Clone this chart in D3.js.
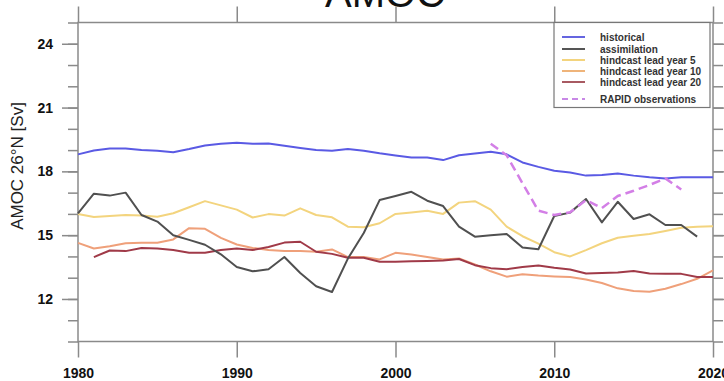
<!DOCTYPE html>
<html>
<head>
<meta charset="utf-8">
<script src="https://cdn.jsdelivr.net/npm/d3@7"></script>
<style>
  html, body { margin: 0; padding: 0; background: #fff; }
  svg { display: block; font-family: "Liberation Sans", Arial, Helvetica, sans-serif; }
</style>
</head>
<body>
<svg id="chart" width="724" height="381"></svg>
<script>
// ---------------- data ----------------
const years = d3.range(1980, 2021);
const historical = [18.8, 18.98, 19.08, 19.08, 19.0, 18.97, 18.9, 19.05, 19.22, 19.3,
  19.35, 19.3, 19.31, 19.2, 19.1, 19.0, 18.97, 19.05, 18.97, 18.85,
  18.75, 18.65, 18.65, 18.53, 18.76, 18.84, 18.92, 18.8, 18.42, 18.21,
  18.03, 17.95, 17.8, 17.83, 17.9, 17.8, 17.72, 17.67, 17.72, 17.72, 17.72];
const assimilationYears = d3.range(1980, 2020);
const assimilation = [16.03, 16.95, 16.86, 17.0, 15.95, 15.64, 15.0, 14.78, 14.55, 14.1,
  13.5, 13.3, 13.4, 13.97, 13.22, 12.6, 12.33, 13.9, 15.1, 16.65,
  16.84, 17.04, 16.62, 16.37, 15.4, 14.93, 15.0, 15.06, 14.42, 14.34,
  15.9, 16.06, 16.7, 15.6, 16.57, 15.76, 15.98, 15.48, 15.48, 14.93];
const lead5 = [16.0, 15.85, 15.9, 15.95, 15.92, 15.87, 16.03, 16.31, 16.6, 16.4,
  16.2, 15.83, 15.99, 15.92, 16.26, 15.95, 15.84, 15.4, 15.37, 15.56,
  16.0, 16.07, 16.15, 16.0, 16.53, 16.6, 16.2, 15.4, 14.95, 14.6,
  14.2, 14.0, 14.3, 14.62, 14.88, 14.97, 15.05, 15.2, 15.35, 15.4, 15.42];
const lead10 = [14.64, 14.37, 14.48, 14.62, 14.64, 14.64, 14.8, 15.33, 15.3, 14.87,
  14.56, 14.4, 14.3, 14.25, 14.25, 14.22, 14.33, 13.97, 13.97, 13.86,
  14.17, 14.09, 13.97, 13.86, 13.9, 13.62, 13.3, 13.05, 13.16, 13.1,
  13.06, 13.03, 12.92, 12.75, 12.5, 12.37, 12.34, 12.48, 12.7, 12.95, 13.34];
const lead20Years = d3.range(1981, 2021);
const lead20 = [13.97, 14.28, 14.25, 14.4, 14.37, 14.3, 14.17, 14.17, 14.3,
  14.37, 14.3, 14.44, 14.65, 14.69, 14.22, 14.12, 13.94, 13.94, 13.75,
  13.75, 13.77, 13.79, 13.81, 13.88, 13.59, 13.45, 13.4, 13.5, 13.57,
  13.47, 13.39, 13.2, 13.22, 13.25, 13.31, 13.2, 13.18, 13.18, 13.03, 13.03];
const rapidYears = d3.range(2006, 2019);
const rapid = [19.3, 18.76, 17.44, 16.15, 15.95, 16.08, 16.65, 16.27, 16.84, 17.09, 17.36, 17.67, 17.15];

const xMajorTicks = [1980, 1990, 2000, 2010, 2020];
const yMajorTicks = [12, 15, 18, 21, 24];
const yMinorTicks = d3.range(10, 26);

const seriesNames = ["historical", "assimilation", "hindcast lead year 5",
  "hindcast lead year 10", "hindcast lead year 20", "RAPID observations"];

// ---------------- drawing ----------------
const colors = {
  historical: "#5a5ae4",
  assimilation: "#505050",
  lead5: "#f3d47e",
  lead10: "#efa07a",
  lead20: "#a03a48",
  rapid: "#d37fe6"
};
const legendColors = ["#6565e0", "#555555", "#f3d47e", "#efb47a", "#a85a62", "#c888e6"];

const svg = d3.select("#chart");
const L = 78, R = 713, T = 22.5, B = 341.5;
const x = d3.scaleLinear().domain([1980, 2020]).range([L, R]);
const y = d3.scaleLinear().domain([10, 25]).range([B, T]);
const axisColor = "#8a8a8a";

// title (partially off the top)
svg.append("text").attr("x", 385).attr("y", 7).attr("text-anchor", "middle")
  .attr("font-size", 40).attr("fill", "#111").text("AMOC");

function styleAxis(g, labels) {
  g.select(".domain").remove();
  g.selectAll(".tick line").attr("stroke", axisColor).attr("stroke-width", 1.5);
  if (!labels) g.selectAll(".tick text").remove();
  else g.selectAll(".tick text").attr("fill", "#111").attr("font-size", 14).attr("font-weight", "bold");
}

// left
svg.append("g").attr("transform", `translate(${L},0)`)
  .call(d3.axisLeft(y).tickValues(yMinorTicks).tickSize(10).tickFormat(""))
  .call(g => styleAxis(g, false));
svg.append("g").attr("transform", `translate(${L},0)`)
  .call(d3.axisLeft(y).tickValues(yMajorTicks).tickSize(16).tickPadding(9).tickFormat(d3.format("d")))
  .call(g => styleAxis(g, true));
// right
svg.append("g").attr("transform", `translate(${R},0)`)
  .call(d3.axisRight(y).tickValues(yMinorTicks).tickSize(10).tickFormat(""))
  .call(g => styleAxis(g, false));
svg.append("g").attr("transform", `translate(${R},0)`)
  .call(d3.axisRight(y).tickValues(yMajorTicks).tickSize(16).tickFormat(""))
  .call(g => styleAxis(g, false));
// bottom
svg.append("g").attr("transform", `translate(0,${B})`)
  .call(d3.axisBottom(x).tickValues(xMajorTicks).tickSize(16).tickPadding(11).tickFormat(d3.format("d")))
  .call(g => styleAxis(g, true));
// top
svg.append("g").attr("transform", `translate(0,${T})`)
  .call(d3.axisTop(x).tickValues(xMajorTicks).tickSize(16).tickFormat(""))
  .call(g => styleAxis(g, false));

// frame
svg.append("rect").attr("x", L).attr("y", T).attr("width", R - L).attr("height", B - T)
  .attr("fill", "none").attr("stroke", axisColor).attr("stroke-width", 1.5);

// y title
svg.append("text")
  .attr("transform", `translate(23,166) rotate(-90)`)
  .attr("text-anchor", "middle").attr("font-size", 17).attr("fill", "#222")
  .text("AMOC 26°N [Sv]");

const line = d3.line().x(d => x(d[0])).y(d => y(d[1]));
function drawSeries(xs, vs, color, width, dash) {
  svg.append("path").datum(xs.map((yr, i) => [yr, vs[i]]))
    .attr("d", line).attr("fill", "none").attr("stroke", color)
    .attr("stroke-width", width).attr("stroke-linejoin", "round")
    .attr("stroke-dasharray", dash || null);
}
drawSeries(years, lead10, colors.lead10, 2);
drawSeries(lead20Years, lead20, colors.lead20, 2);
drawSeries(years, lead5, colors.lead5, 2);
drawSeries(years, historical, colors.historical, 2);
drawSeries(assimilationYears, assimilation, colors.assimilation, 2);
drawSeries(rapidYears, rapid, colors.rapid, 2.5, "9,5");

// legend
const lg = svg.append("g");
lg.append("rect").attr("x", 554).attr("y", T).attr("width", 156).attr("height", 85)
  .attr("fill", "#fff").attr("stroke", "#777").attr("stroke-width", 1.2);
const rowY = [37, 49, 60, 71, 82, 99];
seriesNames.forEach((name, i) => {
  lg.append("line").attr("x1", 562).attr("x2", 585).attr("y1", rowY[i]).attr("y2", rowY[i])
    .attr("stroke", legendColors[i]).attr("stroke-width", 2)
    .attr("stroke-dasharray", i === 5 ? "6,4" : null);
  lg.append("text").attr("x", 600).attr("y", rowY[i]).attr("dy", "0.35em")
    .attr("font-size", 10).attr("font-weight", "bold").attr("fill", "#333").text(name);
});
</script>
</body>
</html>
